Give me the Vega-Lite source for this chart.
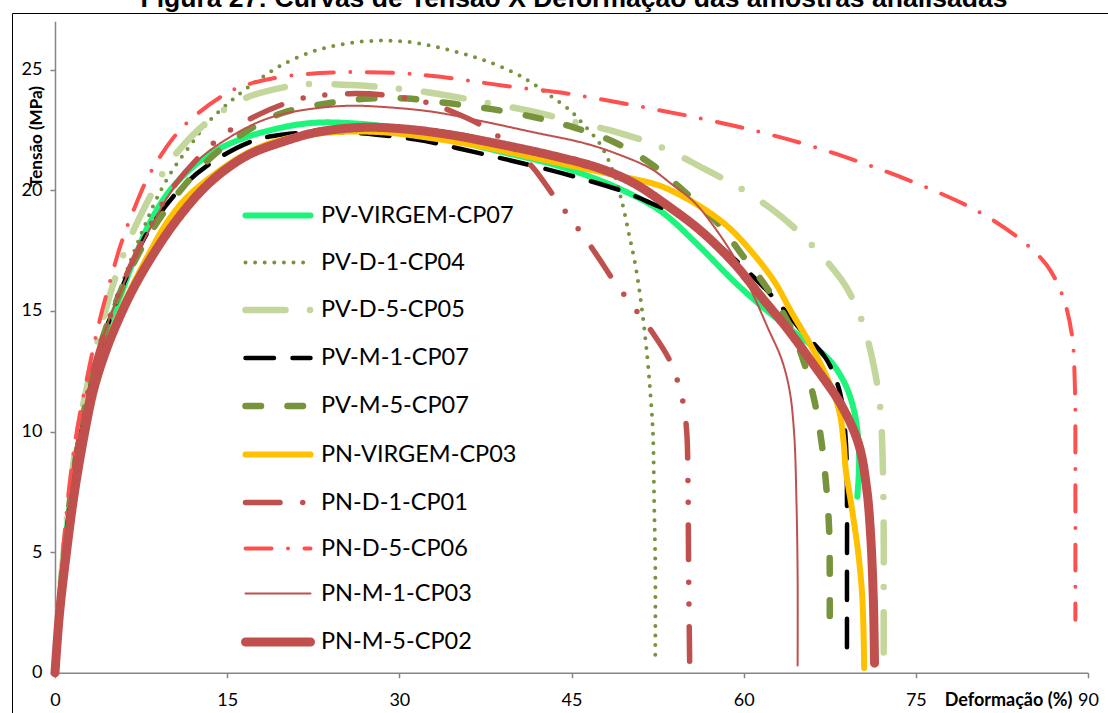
{
  "$schema": "https://vega.github.io/schema/vega-lite/v6.json",
  "width": 1096,
  "height": 700,
  "autosize": {"type": "none"},
  "padding": {"left": 12, "top": 13, "right": 0, "bottom": 0},
  "background": "#ffffff",
  "title": {
    "text": "Figura 27: Curvas de Tensão X Deformação das amostras analisadas",
    "font": "Liberation Sans",
    "fontSize": 26.5,
    "fontWeight": "bold",
    "color": "#000000",
    "anchor": "middle",
    "baseline": "alphabetic",
    "offset": 0,
    "dx": 14,
    "dy": 20
  },
  "config": {
    "view": {"stroke": "#000000", "strokeWidth": 1, "strokeDash": [1096, 1796, 700, 0]},
    "axis": {"grid": false, "labelFlush": false, "labelOverlap": false}
  },
  "data": {
    "values": [
      {"s":"PV-VIRGEM-CP07","x":0,"y":0},{"s":"PV-VIRGEM-CP07","x":0.35,"y":2.5},{"s":"PV-VIRGEM-CP07","x":0.8,"y":5},{"s":"PV-VIRGEM-CP07","x":1.45,"y":7.5},{"s":"PV-VIRGEM-CP07","x":2.3,"y":10},{"s":"PV-VIRGEM-CP07","x":3.4,"y":12.5},{"s":"PV-VIRGEM-CP07","x":4.6,"y":14.4},{"s":"PV-VIRGEM-CP07","x":5.6,"y":15.5},{"s":"PV-VIRGEM-CP07","x":6.7,"y":16.9},{"s":"PV-VIRGEM-CP07","x":8.2,"y":18.6},{"s":"PV-VIRGEM-CP07","x":10.2,"y":20.1},{"s":"PV-VIRGEM-CP07","x":13.2,"y":21.4},{"s":"PV-VIRGEM-CP07","x":16.1,"y":22.1},{"s":"PV-VIRGEM-CP07","x":19.8,"y":22.6},{"s":"PV-VIRGEM-CP07","x":22.8,"y":22.8},{"s":"PV-VIRGEM-CP07","x":26.6,"y":22.75},{"s":"PV-VIRGEM-CP07","x":30.1,"y":22.55},{"s":"PV-VIRGEM-CP07","x":34.4,"y":22.1},{"s":"PV-VIRGEM-CP07","x":38.8,"y":21.6},{"s":"PV-VIRGEM-CP07","x":43.2,"y":21.1},{"s":"PV-VIRGEM-CP07","x":46.1,"y":20.65},{"s":"PV-VIRGEM-CP07","x":49.0,"y":20.1},{"s":"PV-VIRGEM-CP07","x":51.9,"y":19.4},{"s":"PV-VIRGEM-CP07","x":53.4,"y":18.9},{"s":"PV-VIRGEM-CP07","x":56.3,"y":17.6},{"s":"PV-VIRGEM-CP07","x":59.2,"y":16.2},{"s":"PV-VIRGEM-CP07","x":61.8,"y":15.1},{"s":"PV-VIRGEM-CP07","x":63.5,"y":14.45},{"s":"PV-VIRGEM-CP07","x":65.0,"y":13.9},{"s":"PV-VIRGEM-CP07","x":67.4,"y":13.0},{"s":"PV-VIRGEM-CP07","x":68.8,"y":12.0},{"s":"PV-VIRGEM-CP07","x":69.6,"y":10.9},{"s":"PV-VIRGEM-CP07","x":70.0,"y":9.6},{"s":"PV-VIRGEM-CP07","x":70.05,"y":8.5},{"s":"PV-VIRGEM-CP07","x":69.9,"y":7.3},

      {"s":"PV-D-1-CP04","x":0,"y":0},{"s":"PV-D-1-CP04","x":0.3,"y":2.5},{"s":"PV-D-1-CP04","x":0.75,"y":5},{"s":"PV-D-1-CP04","x":1.35,"y":7.5},{"s":"PV-D-1-CP04","x":2.1,"y":10},{"s":"PV-D-1-CP04","x":3.3,"y":12.5},{"s":"PV-D-1-CP04","x":4.6,"y":14.5},{"s":"PV-D-1-CP04","x":5.6,"y":15.8},{"s":"PV-D-1-CP04","x":6.6,"y":17.1},{"s":"PV-D-1-CP04","x":7.7,"y":18.4},{"s":"PV-D-1-CP04","x":8.8,"y":19.6},{"s":"PV-D-1-CP04","x":10.2,"y":20.8},{"s":"PV-D-1-CP04","x":11.7,"y":21.8},{"s":"PV-D-1-CP04","x":13.5,"y":22.9},{"s":"PV-D-1-CP04","x":16.1,"y":24.0},{"s":"PV-D-1-CP04","x":17.8,"y":24.6},{"s":"PV-D-1-CP04","x":19.8,"y":25.2},{"s":"PV-D-1-CP04","x":22.8,"y":25.8},{"s":"PV-D-1-CP04","x":25.7,"y":26.1},{"s":"PV-D-1-CP04","x":28.6,"y":26.2},{"s":"PV-D-1-CP04","x":31.5,"y":26.1},{"s":"PV-D-1-CP04","x":34.4,"y":25.8},{"s":"PV-D-1-CP04","x":37.3,"y":25.4},{"s":"PV-D-1-CP04","x":40.3,"y":24.8},{"s":"PV-D-1-CP04","x":42.0,"y":24.3},{"s":"PV-D-1-CP04","x":43.2,"y":23.9},{"s":"PV-D-1-CP04","x":44.9,"y":23.3},{"s":"PV-D-1-CP04","x":46.1,"y":22.7},{"s":"PV-D-1-CP04","x":47.5,"y":21.9},{"s":"PV-D-1-CP04","x":48.6,"y":20.8},{"s":"PV-D-1-CP04","x":49.3,"y":19.7},{"s":"PV-D-1-CP04","x":50.0,"y":18.2},{"s":"PV-D-1-CP04","x":50.6,"y":16.8},{"s":"PV-D-1-CP04","x":51.1,"y":15.2},{"s":"PV-D-1-CP04","x":51.6,"y":13.1},{"s":"PV-D-1-CP04","x":51.9,"y":11.4},{"s":"PV-D-1-CP04","x":52.1,"y":9.9},{"s":"PV-D-1-CP04","x":52.2,"y":7.1},{"s":"PV-D-1-CP04","x":52.3,"y":4.4},{"s":"PV-D-1-CP04","x":52.3,"y":0.7},

      {"s":"PV-D-5-CP05","x":0,"y":0},{"s":"PV-D-5-CP05","x":0.3,"y":2.5},{"s":"PV-D-5-CP05","x":0.75,"y":5},{"s":"PV-D-5-CP05","x":1.3,"y":7.5},{"s":"PV-D-5-CP05","x":2.0,"y":10},{"s":"PV-D-5-CP05","x":3.0,"y":12.3},{"s":"PV-D-5-CP05","x":4.0,"y":14.3},{"s":"PV-D-5-CP05","x":5.0,"y":16.0},{"s":"PV-D-5-CP05","x":6.1,"y":17.5},{"s":"PV-D-5-CP05","x":7.3,"y":18.8},{"s":"PV-D-5-CP05","x":8.7,"y":20.1},{"s":"PV-D-5-CP05","x":10.2,"y":21.3},{"s":"PV-D-5-CP05","x":13.2,"y":22.8},{"s":"PV-D-5-CP05","x":16.5,"y":23.8},{"s":"PV-D-5-CP05","x":19.8,"y":24.25},{"s":"PV-D-5-CP05","x":22.2,"y":24.4},{"s":"PV-D-5-CP05","x":26.3,"y":24.35},{"s":"PV-D-5-CP05","x":30.1,"y":24.2},{"s":"PV-D-5-CP05","x":33.3,"y":24.0},{"s":"PV-D-5-CP05","x":37.9,"y":23.6},{"s":"PV-D-5-CP05","x":41.7,"y":23.25},{"s":"PV-D-5-CP05","x":45.5,"y":22.8},{"s":"PV-D-5-CP05","x":49.0,"y":22.4},{"s":"PV-D-5-CP05","x":53.0,"y":21.75},{"s":"PV-D-5-CP05","x":56.5,"y":20.9},{"s":"PV-D-5-CP05","x":60.0,"y":20.0},{"s":"PV-D-5-CP05","x":63.3,"y":18.9},{"s":"PV-D-5-CP05","x":66.2,"y":17.6},{"s":"PV-D-5-CP05","x":68.5,"y":16.3},{"s":"PV-D-5-CP05","x":69.6,"y":15.4},{"s":"PV-D-5-CP05","x":70.5,"y":14.3},{"s":"PV-D-5-CP05","x":71.3,"y":12.8},{"s":"PV-D-5-CP05","x":71.9,"y":11.0},{"s":"PV-D-5-CP05","x":72.1,"y":9},{"s":"PV-D-5-CP05","x":72.2,"y":6},{"s":"PV-D-5-CP05","x":72.2,"y":3},{"s":"PV-D-5-CP05","x":72.2,"y":0.6},

      {"s":"PV-M-1-CP07","x":0,"y":0},{"s":"PV-M-1-CP07","x":0.35,"y":2.5},{"s":"PV-M-1-CP07","x":0.8,"y":5},{"s":"PV-M-1-CP07","x":1.45,"y":7.5},{"s":"PV-M-1-CP07","x":2.3,"y":10},{"s":"PV-M-1-CP07","x":3.4,"y":12.5},{"s":"PV-M-1-CP07","x":4.5,"y":14.3},{"s":"PV-M-1-CP07","x":5.3,"y":15.3},{"s":"PV-M-1-CP07","x":6.4,"y":16.6},{"s":"PV-M-1-CP07","x":8.0,"y":18.2},{"s":"PV-M-1-CP07","x":10.6,"y":19.9},{"s":"PV-M-1-CP07","x":13.5,"y":21.1},{"s":"PV-M-1-CP07","x":17.0,"y":22.0},{"s":"PV-M-1-CP07","x":19.0,"y":22.25},{"s":"PV-M-1-CP07","x":22.2,"y":22.4},{"s":"PV-M-1-CP07","x":25.0,"y":22.4},{"s":"PV-M-1-CP07","x":28.0,"y":22.3},{"s":"PV-M-1-CP07","x":31.5,"y":22.1},{"s":"PV-M-1-CP07","x":35.0,"y":21.75},{"s":"PV-M-1-CP07","x":39.1,"y":21.3},{"s":"PV-M-1-CP07","x":42.6,"y":20.9},{"s":"PV-M-1-CP07","x":46.1,"y":20.45},{"s":"PV-M-1-CP07","x":49.5,"y":19.95},{"s":"PV-M-1-CP07","x":52.0,"y":19.45},{"s":"PV-M-1-CP07","x":54.5,"y":18.9},{"s":"PV-M-1-CP07","x":57.1,"y":18.0},{"s":"PV-M-1-CP07","x":60.0,"y":16.8},{"s":"PV-M-1-CP07","x":62.7,"y":15.5},{"s":"PV-M-1-CP07","x":65.0,"y":14.2},{"s":"PV-M-1-CP07","x":67.2,"y":13.0},{"s":"PV-M-1-CP07","x":68.4,"y":11.6},{"s":"PV-M-1-CP07","x":68.9,"y":9.6},{"s":"PV-M-1-CP07","x":69.0,"y":7.1},{"s":"PV-M-1-CP07","x":69.0,"y":4},{"s":"PV-M-1-CP07","x":69.0,"y":0.8},

      {"s":"PV-M-5-CP07","x":0,"y":0},{"s":"PV-M-5-CP07","x":0.35,"y":2.5},{"s":"PV-M-5-CP07","x":0.8,"y":5},{"s":"PV-M-5-CP07","x":1.4,"y":7.5},{"s":"PV-M-5-CP07","x":2.2,"y":10},{"s":"PV-M-5-CP07","x":3.3,"y":12.5},{"s":"PV-M-5-CP07","x":4.6,"y":14.5},{"s":"PV-M-5-CP07","x":5.8,"y":15.9},{"s":"PV-M-5-CP07","x":7.2,"y":17.3},{"s":"PV-M-5-CP07","x":8.8,"y":18.6},{"s":"PV-M-5-CP07","x":11.1,"y":20.1},{"s":"PV-M-5-CP07","x":13.7,"y":21.4},{"s":"PV-M-5-CP07","x":15.6,"y":22.1},{"s":"PV-M-5-CP07","x":17.6,"y":22.7},{"s":"PV-M-5-CP07","x":19.8,"y":23.2},{"s":"PV-M-5-CP07","x":23.7,"y":23.6},{"s":"PV-M-5-CP07","x":27.4,"y":23.8},{"s":"PV-M-5-CP07","x":30.7,"y":23.8},{"s":"PV-M-5-CP07","x":34.4,"y":23.6},{"s":"PV-M-5-CP07","x":38.2,"y":23.35},{"s":"PV-M-5-CP07","x":42.0,"y":23.0},{"s":"PV-M-5-CP07","x":45.2,"y":22.6},{"s":"PV-M-5-CP07","x":48.7,"y":22.0},{"s":"PV-M-5-CP07","x":51.9,"y":21.1},{"s":"PV-M-5-CP07","x":54.7,"y":20.0},{"s":"PV-M-5-CP07","x":57.8,"y":18.6},{"s":"PV-M-5-CP07","x":59.9,"y":17.3},{"s":"PV-M-5-CP07","x":62.1,"y":15.9},{"s":"PV-M-5-CP07","x":63.9,"y":14.5},{"s":"PV-M-5-CP07","x":65.3,"y":12.8},{"s":"PV-M-5-CP07","x":66.2,"y":11.2},{"s":"PV-M-5-CP07","x":66.8,"y":9.5},{"s":"PV-M-5-CP07","x":67.2,"y":7.7},{"s":"PV-M-5-CP07","x":67.45,"y":5.9},{"s":"PV-M-5-CP07","x":67.5,"y":4},{"s":"PV-M-5-CP07","x":67.5,"y":2.0},

      {"s":"PN-VIRGEM-CP03","x":0,"y":0},{"s":"PN-VIRGEM-CP03","x":0.4,"y":2.5},{"s":"PN-VIRGEM-CP03","x":0.9,"y":5},{"s":"PN-VIRGEM-CP03","x":1.6,"y":7.5},{"s":"PN-VIRGEM-CP03","x":2.5,"y":10},{"s":"PN-VIRGEM-CP03","x":3.7,"y":12.4},{"s":"PN-VIRGEM-CP03","x":5.0,"y":14.2},{"s":"PN-VIRGEM-CP03","x":6.4,"y":15.7},{"s":"PN-VIRGEM-CP03","x":8.0,"y":17.2},{"s":"PN-VIRGEM-CP03","x":9.8,"y":18.7},{"s":"PN-VIRGEM-CP03","x":11.7,"y":19.8},{"s":"PN-VIRGEM-CP03","x":14.9,"y":21.0},{"s":"PN-VIRGEM-CP03","x":17.0,"y":21.6},{"s":"PN-VIRGEM-CP03","x":19.8,"y":22.1},{"s":"PN-VIRGEM-CP03","x":24.2,"y":22.4},{"s":"PN-VIRGEM-CP03","x":28.6,"y":22.4},{"s":"PN-VIRGEM-CP03","x":32.9,"y":22.15},{"s":"PN-VIRGEM-CP03","x":37.3,"y":21.8},{"s":"PN-VIRGEM-CP03","x":41.7,"y":21.35},{"s":"PN-VIRGEM-CP03","x":46.1,"y":20.9},{"s":"PN-VIRGEM-CP03","x":49.0,"y":20.6},{"s":"PN-VIRGEM-CP03","x":51.9,"y":20.3},{"s":"PN-VIRGEM-CP03","x":53.4,"y":20.05},{"s":"PN-VIRGEM-CP03","x":56.3,"y":19.3},{"s":"PN-VIRGEM-CP03","x":58.6,"y":18.5},{"s":"PN-VIRGEM-CP03","x":60.6,"y":17.5},{"s":"PN-VIRGEM-CP03","x":62.7,"y":16.2},{"s":"PN-VIRGEM-CP03","x":64.1,"y":15.0},{"s":"PN-VIRGEM-CP03","x":65.7,"y":13.7},{"s":"PN-VIRGEM-CP03","x":67.3,"y":12.2},{"s":"PN-VIRGEM-CP03","x":68.3,"y":10.9},{"s":"PN-VIRGEM-CP03","x":68.7,"y":9.6},{"s":"PN-VIRGEM-CP03","x":68.9,"y":8.4},{"s":"PN-VIRGEM-CP03","x":69.4,"y":6.9},{"s":"PN-VIRGEM-CP03","x":70.0,"y":4.9},{"s":"PN-VIRGEM-CP03","x":70.35,"y":3.0},{"s":"PN-VIRGEM-CP03","x":70.5,"y":0.2},

      {"s":"PN-D-1-CP01","x":0,"y":0},{"s":"PN-D-1-CP01","x":0.35,"y":2.5},{"s":"PN-D-1-CP01","x":0.8,"y":5},{"s":"PN-D-1-CP01","x":1.4,"y":7.5},{"s":"PN-D-1-CP01","x":2.2,"y":10},{"s":"PN-D-1-CP01","x":3.3,"y":12.5},{"s":"PN-D-1-CP01","x":4.6,"y":14.5},{"s":"PN-D-1-CP01","x":5.7,"y":15.9},{"s":"PN-D-1-CP01","x":7.0,"y":17.3},{"s":"PN-D-1-CP01","x":8.5,"y":18.7},{"s":"PN-D-1-CP01","x":10.1,"y":20.0},{"s":"PN-D-1-CP01","x":12.6,"y":21.4},{"s":"PN-D-1-CP01","x":15.0,"y":22.4},{"s":"PN-D-1-CP01","x":17.6,"y":23.1},{"s":"PN-D-1-CP01","x":19.8,"y":23.55},{"s":"PN-D-1-CP01","x":21.9,"y":23.85},{"s":"PN-D-1-CP01","x":25.7,"y":24.0},{"s":"PN-D-1-CP01","x":28.6,"y":23.95},{"s":"PN-D-1-CP01","x":30.7,"y":23.8},{"s":"PN-D-1-CP01","x":32.7,"y":23.6},{"s":"PN-D-1-CP01","x":34.4,"y":23.3},{"s":"PN-D-1-CP01","x":37.3,"y":22.65},{"s":"PN-D-1-CP01","x":40.3,"y":21.6},{"s":"PN-D-1-CP01","x":41.8,"y":20.85},{"s":"PN-D-1-CP01","x":43.4,"y":19.8},{"s":"PN-D-1-CP01","x":44.8,"y":18.9},{"s":"PN-D-1-CP01","x":46.2,"y":18.0},{"s":"PN-D-1-CP01","x":47.5,"y":17.1},{"s":"PN-D-1-CP01","x":48.6,"y":16.3},{"s":"PN-D-1-CP01","x":49.7,"y":15.6},{"s":"PN-D-1-CP01","x":50.9,"y":14.85},{"s":"PN-D-1-CP01","x":52.2,"y":14.0},{"s":"PN-D-1-CP01","x":53.5,"y":13.0},{"s":"PN-D-1-CP01","x":54.3,"y":12.0},{"s":"PN-D-1-CP01","x":54.8,"y":11.0},{"s":"PN-D-1-CP01","x":55.05,"y":9.9},{"s":"PN-D-1-CP01","x":55.15,"y":7.8},{"s":"PN-D-1-CP01","x":55.2,"y":4.4},{"s":"PN-D-1-CP01","x":55.3,"y":0.2},

      {"s":"PN-D-5-CP06","x":0,"y":0},{"s":"PN-D-5-CP06","x":0.3,"y":2.5},{"s":"PN-D-5-CP06","x":0.7,"y":5},{"s":"PN-D-5-CP06","x":1.2,"y":7.5},{"s":"PN-D-5-CP06","x":1.9,"y":10},{"s":"PN-D-5-CP06","x":2.7,"y":12},{"s":"PN-D-5-CP06","x":3.4,"y":13.6},{"s":"PN-D-5-CP06","x":4.1,"y":15},{"s":"PN-D-5-CP06","x":4.9,"y":16.4},{"s":"PN-D-5-CP06","x":5.7,"y":17.7},{"s":"PN-D-5-CP06","x":6.7,"y":19.0},{"s":"PN-D-5-CP06","x":8.4,"y":20.8},{"s":"PN-D-5-CP06","x":11.1,"y":22.6},{"s":"PN-D-5-CP06","x":14.9,"y":24.0},{"s":"PN-D-5-CP06","x":16.9,"y":24.4},{"s":"PN-D-5-CP06","x":19.8,"y":24.7},{"s":"PN-D-5-CP06","x":24.2,"y":24.88},{"s":"PN-D-5-CP06","x":30.0,"y":24.85},{"s":"PN-D-5-CP06","x":34.4,"y":24.65},{"s":"PN-D-5-CP06","x":38.8,"y":24.35},{"s":"PN-D-5-CP06","x":44.7,"y":24.0},{"s":"PN-D-5-CP06","x":50.6,"y":23.5},{"s":"PN-D-5-CP06","x":56.0,"y":23.0},{"s":"PN-D-5-CP06","x":61.1,"y":22.45},{"s":"PN-D-5-CP06","x":66.1,"y":21.8},{"s":"PN-D-5-CP06","x":71.1,"y":21.0},{"s":"PN-D-5-CP06","x":76.0,"y":20.1},{"s":"PN-D-5-CP06","x":80.5,"y":19.1},{"s":"PN-D-5-CP06","x":84.0,"y":18.0},{"s":"PN-D-5-CP06","x":86.4,"y":16.9},{"s":"PN-D-5-CP06","x":87.8,"y":15.6},{"s":"PN-D-5-CP06","x":88.6,"y":14.0},{"s":"PN-D-5-CP06","x":88.85,"y":12},{"s":"PN-D-5-CP06","x":88.9,"y":8},{"s":"PN-D-5-CP06","x":88.9,"y":4},{"s":"PN-D-5-CP06","x":88.9,"y":2.2},

      {"s":"PN-M-1-CP03","x":0,"y":0},{"s":"PN-M-1-CP03","x":0.35,"y":2.5},{"s":"PN-M-1-CP03","x":0.8,"y":5},{"s":"PN-M-1-CP03","x":1.4,"y":7.5},{"s":"PN-M-1-CP03","x":2.2,"y":10},{"s":"PN-M-1-CP03","x":3.3,"y":12.5},{"s":"PN-M-1-CP03","x":4.6,"y":14.5},{"s":"PN-M-1-CP03","x":5.7,"y":15.8},{"s":"PN-M-1-CP03","x":7.0,"y":17.2},{"s":"PN-M-1-CP03","x":8.5,"y":18.6},{"s":"PN-M-1-CP03","x":10.2,"y":20.0},{"s":"PN-M-1-CP03","x":12.6,"y":21.3},{"s":"PN-M-1-CP03","x":14.9,"y":22.1},{"s":"PN-M-1-CP03","x":17.6,"y":22.8},{"s":"PN-M-1-CP03","x":19.8,"y":23.15},{"s":"PN-M-1-CP03","x":22.8,"y":23.4},{"s":"PN-M-1-CP03","x":25.7,"y":23.5},{"s":"PN-M-1-CP03","x":28.6,"y":23.45},{"s":"PN-M-1-CP03","x":32.9,"y":23.25},{"s":"PN-M-1-CP03","x":37.3,"y":22.85},{"s":"PN-M-1-CP03","x":41.7,"y":22.4},{"s":"PN-M-1-CP03","x":46.1,"y":21.95},{"s":"PN-M-1-CP03","x":49.0,"y":21.5},{"s":"PN-M-1-CP03","x":51.9,"y":20.9},{"s":"PN-M-1-CP03","x":53.6,"y":20.3},{"s":"PN-M-1-CP03","x":55.7,"y":19.5},{"s":"PN-M-1-CP03","x":57.4,"y":18.5},{"s":"PN-M-1-CP03","x":59.2,"y":17.2},{"s":"PN-M-1-CP03","x":60.7,"y":15.8},{"s":"PN-M-1-CP03","x":62.1,"y":14.3},{"s":"PN-M-1-CP03","x":63.3,"y":13.0},{"s":"PN-M-1-CP03","x":64.0,"y":11.7},{"s":"PN-M-1-CP03","x":64.4,"y":9.9},{"s":"PN-M-1-CP03","x":64.6,"y":7.1},{"s":"PN-M-1-CP03","x":64.7,"y":4},{"s":"PN-M-1-CP03","x":64.7,"y":0.3},

      {"s":"PN-M-5-CP02","x":0,"y":0},{"s":"PN-M-5-CP02","x":0.4,"y":2.5},{"s":"PN-M-5-CP02","x":1.0,"y":5},{"s":"PN-M-5-CP02","x":1.7,"y":7.5},{"s":"PN-M-5-CP02","x":2.6,"y":10},{"s":"PN-M-5-CP02","x":3.4,"y":11.8},{"s":"PN-M-5-CP02","x":4.4,"y":13.3},{"s":"PN-M-5-CP02","x":5.5,"y":14.6},{"s":"PN-M-5-CP02","x":6.8,"y":15.9},{"s":"PN-M-5-CP02","x":8.5,"y":17.3},{"s":"PN-M-5-CP02","x":10.5,"y":18.7},{"s":"PN-M-5-CP02","x":12.8,"y":20.0},{"s":"PN-M-5-CP02","x":14.7,"y":20.8},{"s":"PN-M-5-CP02","x":17.0,"y":21.5},{"s":"PN-M-5-CP02","x":19.8,"y":22.0},{"s":"PN-M-5-CP02","x":22.8,"y":22.4},{"s":"PN-M-5-CP02","x":26.6,"y":22.6},{"s":"PN-M-5-CP02","x":30.1,"y":22.55},{"s":"PN-M-5-CP02","x":34.4,"y":22.3},{"s":"PN-M-5-CP02","x":38.8,"y":21.9},{"s":"PN-M-5-CP02","x":43.2,"y":21.45},{"s":"PN-M-5-CP02","x":47.5,"y":20.9},{"s":"PN-M-5-CP02","x":50.4,"y":20.3},{"s":"PN-M-5-CP02","x":53.4,"y":19.35},{"s":"PN-M-5-CP02","x":56.3,"y":18.3},{"s":"PN-M-5-CP02","x":59.2,"y":16.95},{"s":"PN-M-5-CP02","x":61.5,"y":15.6},{"s":"PN-M-5-CP02","x":63.9,"y":14.2},{"s":"PN-M-5-CP02","x":66.2,"y":12.7},{"s":"PN-M-5-CP02","x":68.5,"y":11.1},{"s":"PN-M-5-CP02","x":70.0,"y":9.5},{"s":"PN-M-5-CP02","x":70.7,"y":7.7},{"s":"PN-M-5-CP02","x":71.05,"y":5.8},{"s":"PN-M-5-CP02","x":71.3,"y":3.0},{"s":"PN-M-5-CP02","x":71.4,"y":0.4}
    ]
  },
  "mark": {"type": "line", "strokeCap": "round", "strokeJoin": "round", "interpolate": "catmull-rom"},
  "encoding": {
    "x": {
      "field": "x",
      "type": "quantitative",
      "scale": {"domain": [0, 90], "range": [43, 1076], "nice": false, "zero": false},
      "axis": {
        "values": [0, 15, 30, 45, 60, 75, 90],
        "offset": -40.2,
        "domainColor": "#868686",
        "domainWidth": 1.5,
        "tickColor": "#868686",
        "tickWidth": 1.5,
        "tickSize": 5,
        "labelFont": "Lato",
        "labelFontSize": 18,
        "labelColor": "#000000",
        "labelPadding": 14,
        "title": "Deformação (%)",
        "titleFont": "Lato",
        "titleFontSize": 18,
        "titleFontWeight": "bold",
        "titleColor": "#000000",
        "titleX": 996,
        "titleY": 28,
        "titleAlign": "center",
        "titleBaseline": "middle",
        "titleAngle": 0
      }
    },
    "y": {
      "field": "y",
      "type": "quantitative",
      "scale": {"domain": [0, 27], "range": [659.8, 8.3], "nice": false, "zero": false},
      "axis": {
        "values": [0, 5, 10, 15, 20, 25],
        "offset": -43,
        "domainColor": "#868686",
        "domainWidth": 1.5,
        "tickColor": "#868686",
        "tickWidth": 1.5,
        "tickSize": 5,
        "labelFont": "Lato",
        "labelFontSize": 18,
        "labelColor": "#000000",
        "labelPadding": 8,
        "title": "Tensão (MPa)",
        "titleFont": "Lato",
        "titleFontSize": 17,
        "titleFontWeight": "bold",
        "titleColor": "#000000",
        "titleX": -19,
        "titleY": 123,
        "titleAngle": 270,
        "titleAlign": "center",
        "titleBaseline": "middle"
      }
    },
    "order": {"value": null},
    "color": {
      "field": "s",
      "type": "nominal",
      "scale": {
        "domain": ["PV-VIRGEM-CP07","PV-D-1-CP04","PV-D-5-CP05","PV-M-1-CP07","PV-M-5-CP07","PN-VIRGEM-CP03","PN-D-1-CP01","PN-D-5-CP06","PN-M-1-CP03","PN-M-5-CP02"],
        "range": ["#1CF57B","#77933C","#C3D69B","#000000","#77933C","#FFC000","#C0504D","#FF5050","#C0504D","#C0504D"]
      },
      "legend": {
        "orient": "none", "legendX": 229, "legendY": 167, "title": null,
        "symbolType": "stroke", "symbolSize": 4225, "labelFont": "Lato", "labelFontSize": 23.5,
        "labelColor": "#000000", "labelOffset": 6, "rowPadding": 0, "padding": 0,
        "labelLimit": 0, "symbolLimit": 0,
        "encode": {"symbols": {"update": {"strokeCap": {"value": "round"}}}}
      }
    },
    "strokeDash": {
      "field": "s",
      "type": "nominal",
      "scale": {
        "domain": ["PV-VIRGEM-CP07","PV-D-1-CP04","PV-D-5-CP05","PV-M-1-CP07","PV-M-5-CP07","PN-VIRGEM-CP03","PN-D-1-CP01","PN-D-5-CP06","PN-M-1-CP03","PN-M-5-CP02"],
        "range": [[1,0],[0,9.6],[40,24.5,0,25.5],[28.5,18.5],[15.5,26.5],[1,0],[34.5,22.75,0,21.7,0,22.7],[26,16.5,0,16.5],[1,0],[1,0]]
      },
      "legend": {
        "orient": "none", "legendX": 229, "legendY": 167, "title": null,
        "symbolType": "stroke", "symbolSize": 4225, "labelFont": "Lato", "labelFontSize": 23.5,
        "labelColor": "#000000", "labelOffset": 6, "rowPadding": 0, "padding": 0,
        "labelLimit": 0, "symbolLimit": 0,
        "encode": {"symbols": {"update": {"strokeCap": {"value": "round"}}}}
      }
    },
    "strokeWidth": {
      "field": "s",
      "type": "nominal",
      "scale": {
        "type": "ordinal",
        "domain": ["PV-VIRGEM-CP07","PV-D-1-CP04","PV-D-5-CP05","PV-M-1-CP07","PV-M-5-CP07","PN-VIRGEM-CP03","PN-D-1-CP01","PN-D-5-CP06","PN-M-1-CP03","PN-M-5-CP02"],
        "range": [6,4,6.5,4.5,6.5,6,5.5,4,2,9]
      },
      "legend": {
        "orient": "none", "legendX": 229, "legendY": 167, "title": null,
        "symbolType": "stroke", "symbolSize": 4225, "labelFont": "Lato", "labelFontSize": 23.5,
        "labelColor": "#000000", "labelOffset": 6, "rowPadding": 0, "padding": 0,
        "labelLimit": 0, "symbolLimit": 0,
        "encode": {"symbols": {"update": {"strokeCap": {"value": "round"}}}}
      }
    }
  }
}
